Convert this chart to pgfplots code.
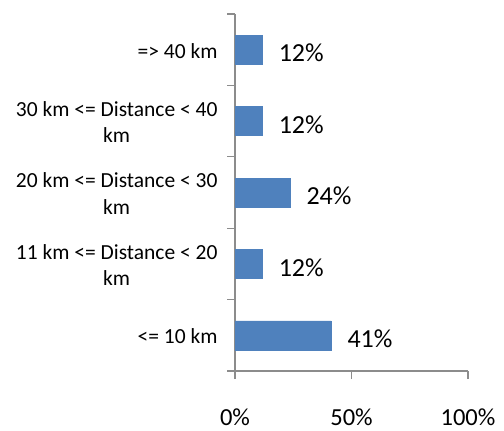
\documentclass[border=0pt]{standalone}
\usepackage{fontspec}
\setmainfont{Carlito}
\usepackage{pgfplots}
\pgfplotsset{compat=1.18}
\definecolor{barblue}{HTML}{4F81BD}
\definecolor{axgray}{HTML}{8C8C8C}
\begin{document}
\begin{tikzpicture}[x=1bp,y=1bp]
\useasboundingbox (0,0) rectangle (504,430);
\begin{axis}[
  at={(235bp,59bp)}, anchor=south west,
  scale only axis, width=233bp, height=357bp,
  xbar, bar width=29bp,
  xmin=0, xmax=100, ymin=-0.5, ymax=4.5,
  axis lines*=left,
  axis line style={axgray, line width=1.1bp},
  every tick/.style={axgray, line width=1.1bp},
  tick align=outside,
  xtick={0,50,100},
  xticklabels={0\%,50\%,100\%},
  major tick length=8bp,
  minor tick length=8bp,
  ytick={0,1,2,3,4},
  yticklabels={{<= 10 km},{11 km <= Distance < 20\\km},{20 km <= Distance < 30\\km},{30 km <= Distance < 40\\km},{=> 40 km}},
  major y tick style={draw=none},
  minor ytick={-0.5,0.5,1.5,2.5,3.5,4.5},
  minor y tick style={draw=axgray, line width=1.1bp},
  yticklabel style={font=\fontsize{21.5bp}{26.5bp}\selectfont, align=center, anchor=east, xshift=-6bp, yshift=-1bp, text=black},
  xticklabel style={font=\fontsize{24.5bp}{28bp}\selectfont, anchor=north, yshift=-26bp, text=black},
  nodes near coords,
  point meta=explicit symbolic,
  every node near coord/.style={font=\fontsize{26bp}{30bp}\selectfont, anchor=west, xshift=13bp, yshift=-3.5bp, text=black},
  clip=false,
]
\addplot[fill=barblue, draw=barblue] coordinates {
  (41.2,0) [41\%]
  (11.7,1) [12\%]
  (23.6,2) [24\%]
  (11.7,3) [12\%]
  (11.7,4) [12\%]
};
\end{axis}
\end{tikzpicture}
\end{document}
